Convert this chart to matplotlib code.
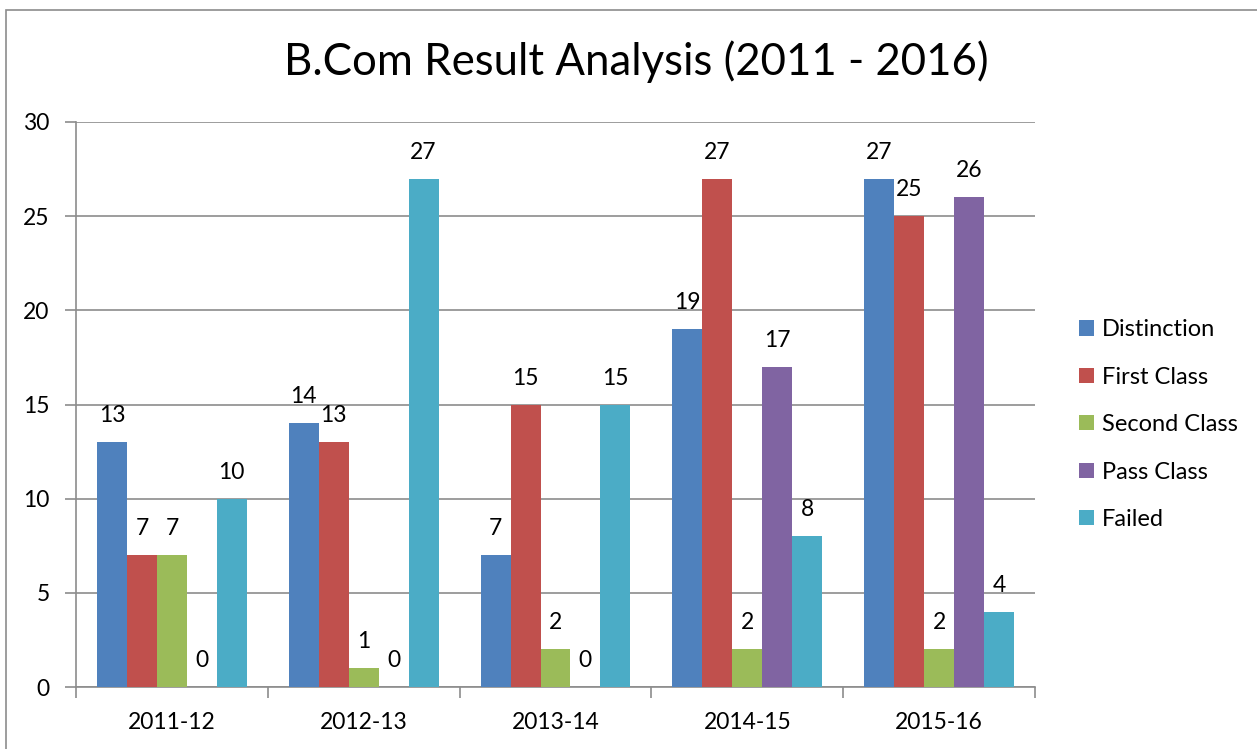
import matplotlib
matplotlib.use("Agg")
import matplotlib.pyplot as plt
from matplotlib.patches import Rectangle
import numpy as np

plt.rcParams['font.family'] = ['Lato', 'DejaVu Sans']

years = ["2011-12", "2012-13", "2013-14", "2014-15", "2015-16"]
series_names = ["Distinction", "First Class", "Second Class", "Pass Class", "Failed"]
distinction = [13, 14, 7, 19, 27]
first_class = [7, 13, 15, 27, 25]
second_class = [7, 1, 2, 2, 2]
pass_class = [0, 0, 0, 17, 26]
failed = [10, 27, 15, 8, 4]
colors = ["#4F81BD", "#C0504D", "#9BBB59", "#8064A2", "#4BACC6"]

W, H = 1257, 749
fig = plt.figure(figsize=(W/100, H/100), dpi=100)
ax = fig.add_axes([76/W, 1-687/H, (1035-76)/W, (687-122)/H])

# outer border
fig.patches.append(Rectangle((6/W, -0.01), 1.2, 1-10/H+0.01, transform=fig.transFigure,
                             fill=False, edgecolor="#8c8c8c", linewidth=1.2))

all_series = [distinction, first_class, second_class, pass_class, failed]
x = np.arange(len(years))
bw = 0.156
for i, (vals, c) in enumerate(zip(all_series, colors)):
    pos = x + (i - 2) * bw
    ax.bar(pos, vals, width=bw, color=c, label=series_names[i], zorder=3, linewidth=0)
    for p, v in zip(pos, vals):
        ax.text(p, v + 1.4, str(v), ha="center", va="center", fontsize=16.5, color="#000000")

ax.set_xlim(-0.5, len(years) - 0.5)
ax.set_ylim(0, 30)
ax.set_yticks(range(0, 31, 5))
ax.yaxis.grid(True, color="#8c8c8c", linewidth=1.2, zorder=0)
ax.set_axisbelow(True)
for s in ["top", "right"]:
    ax.spines[s].set_visible(False)
for s in ["left", "bottom"]:
    ax.spines[s].set_color("#8c8c8c")
    ax.spines[s].set_linewidth(1.2)
ax.set_xticks(x)
ax.set_xticklabels(years, fontsize=16.5)
ax.tick_params(axis="x", length=0, pad=18)
ax.set_xticks(np.arange(-0.5, len(years), 1), minor=True)
ax.tick_params(axis="x", which="minor", length=8, color="#8c8c8c", width=1.2, direction="out")
ax.tick_params(axis="y", length=8, color="#8c8c8c", width=1.2, labelsize=16.5, pad=11)

fig.text(636/W, 1-62/H, "B.Com Result Analysis (2011 - 2016)", ha="center", va="center", fontsize=31.5)

leg = fig.legend(loc="upper left", bbox_to_anchor=(1058/W, 1-298/H), frameon=False, fontsize=17,
                 handlelength=0.62, handleheight=0.62, labelspacing=1.12, handletextpad=0.35)

fig.savefig("out.png", dpi=100)
